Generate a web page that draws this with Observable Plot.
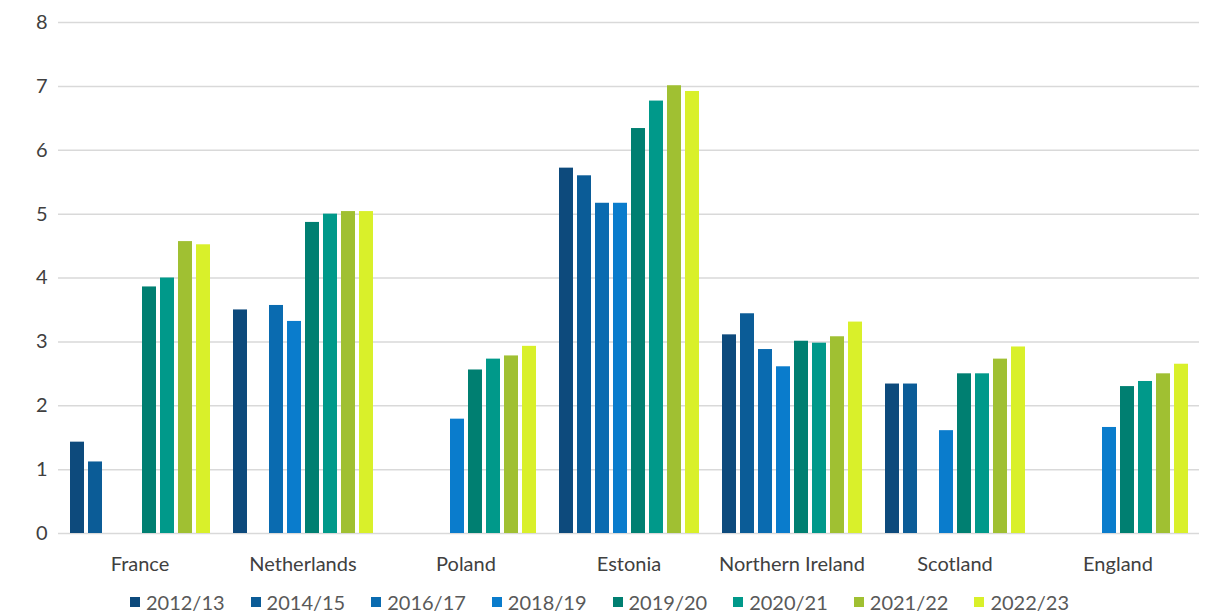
<!DOCTYPE html>
<html>
<head>
<meta charset="utf-8">
<script src="https://cdn.jsdelivr.net/npm/d3@7"></script>
<script src="https://cdn.jsdelivr.net/npm/@observablehq/plot@0.6"></script>
<style>
  body { margin: 0; background: #fff; font-family: Lato, "Open Sans", sans-serif; }
  #legend { display: flex; justify-content: center; gap: 26px; font-size: 20px; color: #595959; margin-top: 2px; padding-right: 8px; line-height: 24px; }
  #legend span.item { display: inline-flex; align-items: center; gap: 6px; }
  #legend span.sw { width: 10px; height: 10px; display: inline-block; }
</style>
</head>
<body>
<div id="chart"></div>
<div id="legend"></div>
<script>
const countries = ["France", "Netherlands", "Poland", "Estonia", "Northern Ireland", "Scotland", "England"];
const years = ["2012/13", "2014/15", "2016/17", "2018/19", "2019/20", "2020/21", "2021/22", "2022/23"];
const colors = ["#0d4a7c", "#0b5c97", "#0a6bb0", "#0a7ccc", "#007f71", "#00998a", "#a0c032", "#d9f02a"];

const france          = [1.43, 1.12, null, null, 3.86, 4.00, 4.57, 4.52];
const netherlands     = [3.50, null, 3.57, 3.32, 4.87, 5.00, 5.04, 5.04];
const poland          = [null, null, null, 1.79, 2.56, 2.73, 2.78, 2.93];
const estonia         = [5.72, 5.60, 5.17, 5.17, 6.34, 6.77, 7.01, 6.92];
const northernIreland = [3.11, 3.44, 2.88, 2.61, 3.01, 2.98, 3.08, 3.31];
const scotland        = [2.34, 2.34, null, 1.61, 2.50, 2.50, 2.73, 2.92];
const england         = [null, null, null, 1.66, 2.30, 2.38, 2.50, 2.65];
const yTicks = [0, 1, 2, 3, 4, 5, 6, 7, 8];

const series = [france, netherlands, poland, estonia, northernIreland, scotland, england];
const data = [];
countries.forEach((c, i) => years.forEach((y, j) => {
  if (series[i][j] != null) data.push({country: c, year: y, value: series[i][j]});
}));

const chart = Plot.plot({
  width: 1207,
  height: 588,
  marginLeft: 57,
  marginRight: 7,
  marginTop: 22,
  marginBottom: 55,
  style: {fontFamily: "Lato, 'Open Sans', sans-serif", fontSize: "20px", color: "#404040", background: "#fff"},
  fx: {domain: countries, padding: 0, label: null},
  x: {domain: years, paddingInner: 0.25, paddingOuter: 0.6, axis: null},
  y: {domain: [0, 8], ticks: yTicks, label: null},
  color: {domain: years, range: colors},
  marks: [
    Plot.gridY(yTicks, {stroke: "#d9d9d9", strokeOpacity: 1, strokeWidth: 1.5}),
    Plot.barY(data, {fx: "country", x: "year", y: "value", fill: "year"}),
    Plot.axisY(yTicks, {tickSize: 0, tickPadding: 11, fontSize: 20, fill: "#404040", label: null, tickFormat: "d"}),
    Plot.axisFx({anchor: "bottom", tickSize: 0, tickPadding: 23, fontSize: 20, fill: "#404040", label: null})
  ]
});
document.getElementById("chart").appendChild(chart);

const legend = document.getElementById("legend");
years.forEach((y, i) => {
  const item = document.createElement("span");
  item.className = "item";
  const sw = document.createElement("span");
  sw.className = "sw";
  sw.style.background = colors[i];
  item.appendChild(sw);
  item.appendChild(document.createTextNode(y));
  legend.appendChild(item);
});
</script>
</body>
</html>
